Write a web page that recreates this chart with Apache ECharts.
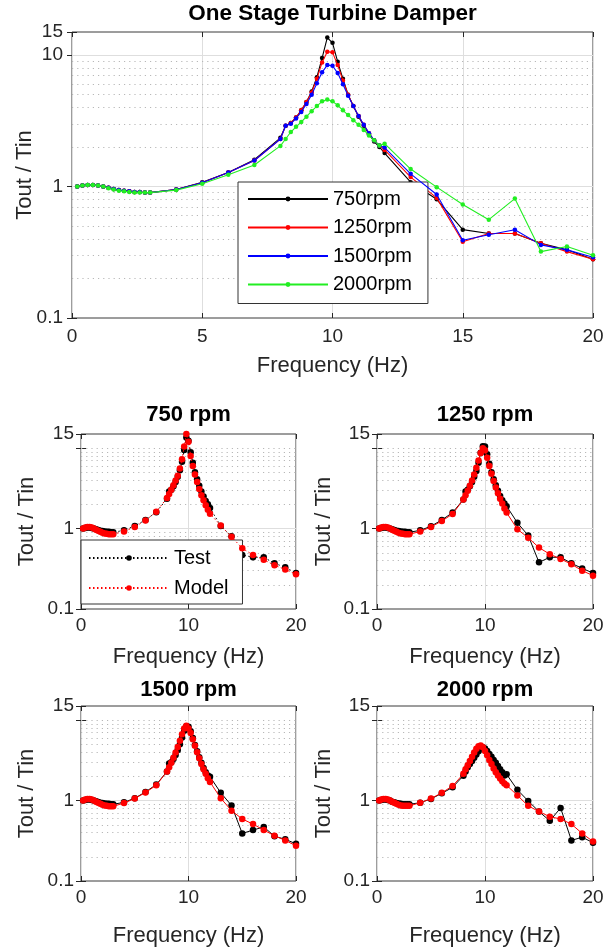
<!DOCTYPE html>
<html>
<head>
<meta charset="utf-8">
<script src="https://cdn.jsdelivr.net/npm/echarts@6/dist/echarts.min.js"></script>
<style>html,body{margin:0;padding:0;background:#fff}#c{width:605px;height:947px}</style>
</head>
<body>
<div id="c"></div>
<script>
// ---------- data ----------
const freq = [0.2,0.4,0.6,0.8,1.0,1.2,1.4,1.6,1.8,2.0,2.2,2.4,2.6,2.8,3.0,
  4,5,6,7,
  8.0,8.2,8.4,8.6,8.8,9.0,9.2,9.4,9.6,9.8,10.0,10.2,10.4,10.6,10.8,11.0,11.2,11.4,11.6,11.8,12.0,
  13,14,15,16,17,18,19,20];

// measured (test) transmissibility
const test750 = [1.00,1.02,1.03,1.03,1.02,1.00,0.98,0.96,0.94,0.93,0.92,0.91,0.91,0.90,0.90,
  0.95,1.08,1.28,1.60,
  2.35,2.90,3.05,3.35,3.80,4.40,5.30,6.80,9.50,13.6,12.4,8.90,6.60,5.00,4.10,3.40,2.90,2.50,2.20,2.00,1.80,
  1.08,0.80,0.47,0.44,0.44,0.37,0.33,0.28];
const test1250 = [1.00,1.02,1.03,1.03,1.02,1.00,0.98,0.96,0.94,0.93,0.92,0.91,0.91,0.90,0.90,
  0.95,1.07,1.28,1.58,
  2.30,2.90,3.05,3.35,3.80,4.40,5.20,6.60,8.80,10.6,10.5,8.40,6.40,5.00,4.10,3.45,2.95,2.55,2.25,2.05,1.90,
  1.18,0.82,0.38,0.44,0.44,0.37,0.32,0.28];
const test1500 = [1.00,1.02,1.03,1.03,1.02,1.00,0.98,0.96,0.94,0.93,0.92,0.91,0.91,0.90,0.90,
  0.95,1.07,1.28,1.58,
  2.30,2.90,3.00,3.30,3.70,4.25,5.00,6.10,7.40,8.40,8.30,7.30,6.00,4.90,4.10,3.45,2.95,2.55,2.25,2.05,1.98,
  1.25,0.87,0.39,0.43,0.47,0.36,0.33,0.29];
const test2000 = [1.00,1.02,1.03,1.03,1.02,1.00,0.97,0.95,0.93,0.92,0.91,0.90,0.90,0.90,0.90,
  0.94,1.05,1.23,1.46,
  2.04,2.30,2.60,2.85,3.10,3.40,3.75,4.10,4.45,4.60,4.45,4.15,3.80,3.50,3.20,2.95,2.70,2.45,2.25,2.05,2.12,
  1.36,0.99,0.73,0.56,0.81,0.32,0.35,0.30];

// model predictions
const model750 = [1.00,1.03,1.05,1.05,1.03,1.00,0.97,0.94,0.91,0.89,0.87,0.86,0.85,0.85,0.85,
  0.92,1.05,1.26,1.62,
  2.40,2.70,3.05,3.45,3.95,4.55,5.60,7.30,10.5,15.0,12.0,8.00,6.00,4.70,3.80,3.10,2.60,2.25,1.95,1.72,1.53,
  1.09,0.79,0.57,0.47,0.41,0.35,0.31,0.27];
const model1250 = [1.00,1.03,1.05,1.05,1.03,1.00,0.97,0.94,0.91,0.89,0.87,0.86,0.85,0.85,0.85,
  0.92,1.05,1.24,1.52,
  2.30,2.60,2.95,3.40,3.95,4.70,5.70,7.00,8.70,10.0,9.40,7.60,6.00,4.80,3.90,3.25,2.75,2.35,2.05,1.78,1.58,
  0.98,0.77,0.58,0.48,0.42,0.36,0.30,0.26];
const model1500 = [1.00,1.03,1.05,1.05,1.03,1.00,0.97,0.94,0.91,0.89,0.87,0.86,0.85,0.85,0.85,
  0.93,1.06,1.26,1.55,
  2.30,2.60,2.95,3.40,3.95,4.65,5.55,6.70,7.90,8.50,7.90,6.90,5.80,4.80,4.00,3.35,2.85,2.45,2.15,1.90,1.70,
  1.07,0.75,0.59,0.51,0.43,0.365,0.32,0.274];
const model2000 = [1.00,1.03,1.05,1.05,1.03,1.00,0.97,0.94,0.91,0.89,0.87,0.86,0.86,0.86,0.86,
  0.94,1.06,1.25,1.52,
  2.15,2.45,2.75,3.10,3.50,3.95,4.40,4.75,4.85,4.60,4.15,3.65,3.20,2.85,2.50,2.25,2.05,1.88,1.74,1.63,1.55,
  1.16,0.86,0.73,0.63,0.59,0.51,0.39,0.31];

const speedNames = ['750rpm','1250rpm','1500rpm','2000rpm'];
const subTitles = ['750 rpm','1250 rpm','1500 rpm','2000 rpm'];
const testSets = [test750, test1250, test1500, test2000];
const modelSets = [model750, model1250, model1500, model2000];

// axis tick / grid values
const yMajorMain = [1, 10];
const yMinorMain = [0.2,0.3,0.4,0.5,0.6,0.7,0.8,0.9,2,3,4,5,6,7,8,9];
const yMajorSub = [1];
const yMinorSub = [0.2,0.3,0.4,0.5,0.6,0.7,0.8,0.9,2,3,4,5,6,7,8,9,10];

// ---------- layout / style ----------
const FONT = '"Liberation Sans", Arial, Helvetica, sans-serif';
const TXT = '#262626';
const MAJ = '#dedede';
const MIN = '#b8b8b8';
const mainColors = ['#000000', '#ff0000', '#0000ff', '#22ee22'];

const grids = [
  {left: 72, top: 32, width: 521, height: 286},
  {left: 81, top: 434, width: 215, height: 175},
  {left: 377, top: 434, width: 216, height: 175},
  {left: 81, top: 706, width: 215, height: 175},
  {left: 377, top: 706, width: 216, height: 175}
];

function pairs(ys) { return freq.map((f, i) => [f, ys[i]]); }

const tickStyle = {show: true, inside: true, length: 5, lineStyle: {color: TXT}};

// primary (labelled) axes
const xAxes = grids.map((g, i) => ({
  type: 'value', gridIndex: i, min: 0, max: 20, interval: i === 0 ? 5 : 10,
  name: 'Frequency (Hz)', nameLocation: 'middle', nameMoveOverlap: false,
  nameGap: i === 0 ? 37 : (i < 3 ? 37 : 44),
  nameTextStyle: {fontSize: 22, color: TXT, fontFamily: FONT},
  axisLine: {show: false},
  axisTick: tickStyle,
  axisLabel: {fontSize: 19, color: TXT, margin: i === 0 ? 9 : 7, fontFamily: FONT},
  splitLine: {show: true, lineStyle: {color: MAJ, width: 1}}
}));
const yAxes = grids.map((g, i) => ({
  type: 'log', logBase: 10, gridIndex: i, min: 0.1, max: 15,
  name: 'Tout / Tin', nameLocation: 'middle', nameRotate: 90, nameMoveOverlap: false,
  nameGap: i === 0 ? 36 : (i === 2 || i === 4 ? 42 : 43),
  nameTextStyle: {fontSize: 22, color: TXT, fontFamily: FONT},
  axisLine: {show: false},
  axisTick: tickStyle,
  axisLabel: {
    fontSize: 19, color: TXT, margin: i === 0 ? 9 : 7, fontFamily: FONT,
    formatter: function (v) {
      if (i > 0 && Math.abs(v - 10) < 1e-6) return '';
      return String(+v.toPrecision(6));
    }
  },
  splitLine: {show: false}
}));
// box ticks on top / right edges (no labels)
grids.forEach((g, i) => {
  xAxes.push({
    type: 'value', gridIndex: i, position: 'top', min: 0, max: 20, interval: i === 0 ? 5 : 10,
    axisLine: {show: false}, axisTick: tickStyle, axisLabel: {show: false}, splitLine: {show: false}
  });
  yAxes.push({
    type: 'log', logBase: 10, gridIndex: i, position: 'right', min: 0.1, max: 15,
    axisLine: {show: false}, axisTick: tickStyle, axisLabel: {show: false}, splitLine: {show: false}
  });
});

const option = {
  animation: false,
  backgroundColor: '#fff',
  textStyle: {fontFamily: FONT},
  title: [
    {text: 'One Stage Turbine Damper', left: 332.5, top: 2, textAlign: 'center', padding: 0,
     textStyle: {fontSize: 22.5, fontWeight: 'bold', color: '#000', fontFamily: FONT}}
  ].concat(subTitles.map((t, k) => ({
    text: t,
    left: grids[k + 1].left + grids[k + 1].width / 2,
    top: k < 2 ? 403.5 : 678.5,
    textAlign: 'center', padding: 0,
    textStyle: {fontSize: 22, fontWeight: 'bold', color: '#000', fontFamily: FONT}
  }))),
  grid: grids.map(g => Object.assign({
    show: true, backgroundColor: '#fff', borderColor: '#3a3a3a', borderWidth: 1,
    containLabel: false, outerBoundsMode: 'none'
  }, g)),
  legend: [
    {
      data: speedNames, orient: 'vertical', left: 238, top: 182,
      padding: [7, 16, 9, 9], itemWidth: 80, itemHeight: 6, itemGap: 8.5,
      backgroundColor: '#fff', borderColor: '#333', borderWidth: 1, selectedMode: false,
      textStyle: {fontSize: 20, lineHeight: 20, color: '#000', fontFamily: FONT}
    },
    {
      data: ['Test', 'Model'], orient: 'vertical', left: 81, top: 540,
      padding: [7, 14, 5, 7], itemWidth: 80, itemHeight: 7, itemGap: 8,
      backgroundColor: '#fff', borderColor: '#333', borderWidth: 1, selectedMode: false,
      textStyle: {fontSize: 20, lineHeight: 22, color: '#000', fontFamily: FONT}
    }
  ],
  xAxis: xAxes,
  yAxis: yAxes,
  series: []
};

// grid-line carriers (drawn beneath data)
grids.forEach((g, i) => {
  const major = i === 0 ? yMajorMain : yMajorSub;
  const minor = i === 0 ? yMinorMain : yMinorSub;
  option.series.push({
    type: 'line', name: 'grid' + i, xAxisIndex: i, yAxisIndex: i, data: [], silent: true,
    markLine: {
      silent: true, z: 1, symbol: ['none', 'none'], label: {show: false}, animation: false,
      data: major.map(v => ({yAxis: v, lineStyle: {color: MAJ, type: 'solid', width: 1}}))
        .concat(minor.map(v => ({yAxis: v, lineStyle: {color: MIN, type: [1.2, 4], width: 1}})))
    }
  });
});

// main chart: four test series
testSets.forEach((ys, k) => {
  option.series.push({
    type: 'line', name: speedNames[k], xAxisIndex: 0, yAxisIndex: 0,
    data: pairs(ys), symbol: 'circle', symbolSize: 4.5, showSymbol: true,
    lineStyle: {color: mainColors[k], width: 1.1},
    itemStyle: {color: mainColors[k]},
    z: 2 + k
  });
});

// subplots: test vs model
testSets.forEach((ys, k) => {
  const dotted = k === 0;
  const lt = dotted ? [1.5, 2.5] : 'solid';
  option.series.push({
    type: 'line', name: k === 0 ? 'Test' : 'Test ' + subTitles[k],
    xAxisIndex: k + 1, yAxisIndex: k + 1,
    data: pairs(ys), symbol: 'circle', symbolSize: 6.5, showSymbol: true,
    lineStyle: {color: '#000', width: 1, type: lt},
    itemStyle: {color: '#000'}, z: 3
  });
  option.series.push({
    type: 'line', name: k === 0 ? 'Model' : 'Model ' + subTitles[k],
    xAxisIndex: k + 1, yAxisIndex: k + 1,
    data: pairs(modelSets[k]), symbol: 'circle', symbolSize: 6.5, showSymbol: true,
    lineStyle: {color: '#ff0000', width: 1, type: lt},
    itemStyle: {color: '#ff0000'}, z: 4
  });
});

const chart = echarts.init(document.getElementById('c'), null, {renderer: 'canvas'});
chart.setOption(option);
</script>
</body>
</html>
